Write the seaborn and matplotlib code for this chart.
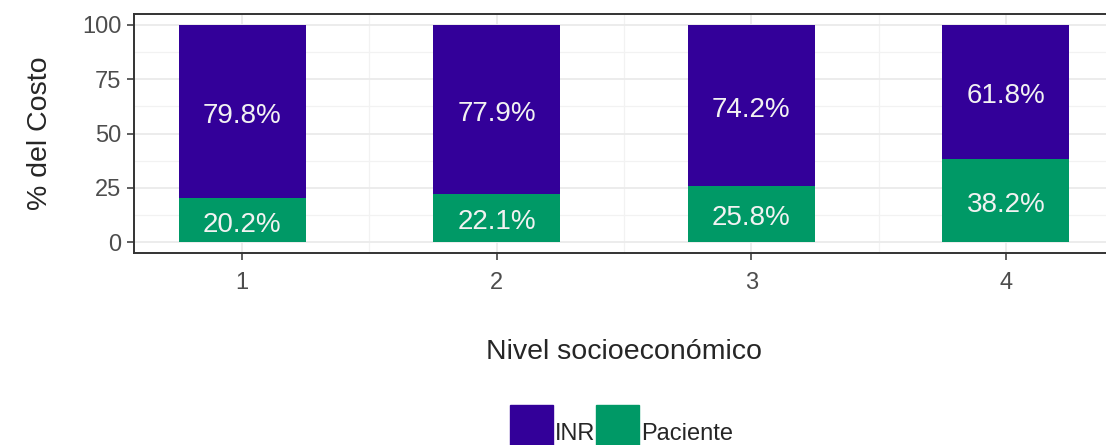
import matplotlib
matplotlib.use("Agg")
import matplotlib.pyplot as plt
import seaborn as sns
import pandas as pd

# datos
nivel = [1, 2, 3, 4]
inr = [79.8, 77.9, 74.2, 61.8]
paciente = [20.2, 22.1, 25.8, 38.2]
series = ['INR', 'Paciente']
colores = {'INR': '#330099', 'Paciente': '#009966'}

df = pd.DataFrame({'nivel': nivel, 'INR': inr, 'Paciente': paciente})
df['total'] = df['INR'] + df['Paciente']

sns.set_theme(style='whitegrid')
plt.rcParams['font.family'] = ['Liberation Sans', 'DejaVu Sans']

fig = plt.figure(figsize=(11.06, 4.45), dpi=100)
ax = fig.add_axes([134 / 1106, 192 / 445, 980 / 1106, 239 / 445])

# barras apiladas: total (INR arriba) y luego Paciente abajo
sns.barplot(data=df, x='nivel', y='total', color=colores['INR'], native_scale=True,
            width=0.5, saturation=1, linewidth=0, ax=ax)
sns.barplot(data=df, x='nivel', y='Paciente', color=colores['Paciente'], native_scale=True,
            width=0.5, saturation=1, linewidth=0, ax=ax)

for n, i, p in zip(nivel, inr, paciente):
    ax.text(n, p + i / 2 - 2, f'{i:.1f}%', ha='center', va='center', color='#F2F2F2', fontsize=20)
    ax.text(n, p / 2 - 2, f'{p:.1f}%', ha='center', va='center', color='#F2F2F2', fontsize=20)

ax.set_xlim(0.575, 4.425)
ax.set_ylim(-5, 105)
ax.set_xticks(nivel)
ax.set_xticks([1.5, 2.5, 3.5], minor=True)
ax.set_yticks([0, 25, 50, 75, 100])
ax.set_yticks([12.5, 37.5, 62.5, 87.5], minor=True)
ax.grid(which='major', color='#EBEBEB', linewidth=1.3)
ax.grid(which='minor', color='#F2F2F2', linewidth=0.9)
ax.set_axisbelow(True)

ax.tick_params(axis='both', which='major', labelsize=17, labelcolor='#4D4D4D', color='#333333',
               length=5, width=1.1, left=True, bottom=True, pad=4)
ax.tick_params(axis='x', which='major', pad=9)
ax.tick_params(which='minor', length=0)
for s in ax.spines.values():
    s.set_color('#333333')
    s.set_linewidth(1.4)

ax.set_xlabel('Nivel socioeconómico', fontsize=20.5, labelpad=32)
ax.set_ylabel('% del Costo', fontsize=20.5, labelpad=21)

handles = [plt.Rectangle((0, 0), 1, 1, color=colores[s]) for s in series]
fig.legend(handles, series, loc='upper left', bbox_to_anchor=(510 / 1106, 1 - 405 / 445),
           frameon=False, fontsize=17, handlelength=1.82, handleheight=3.3,
           handletextpad=0.08, columnspacing=0.05, ncol=2, borderpad=0, borderaxespad=0)

fig.savefig('out.png', dpi=100)
